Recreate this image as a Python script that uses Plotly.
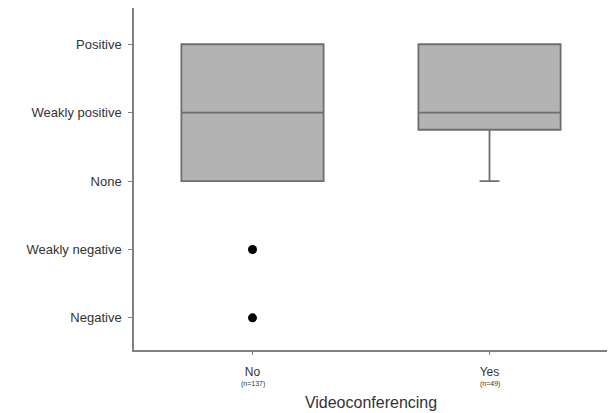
import plotly.graph_objects as go

categories = ["No", "Yes"]
sample_sizes = ["(n=137)", "(n=49)"]
q1 = [3, 3.75]
median = [4, 4]
q3 = [5, 5]
lowerfence = [3, 3]
upperfence = [5, 5]
outlier_x = ["No", "No"]
outlier_y = [2, 1]
y_tickvals = [1, 2, 3, 4, 5]
y_ticktext = ["Negative", "Weakly negative", "None", "Weakly positive", "Positive"]

fig = go.Figure()
fig.add_trace(go.Box(
    x=categories, q1=q1, median=median, q3=q3,
    lowerfence=lowerfence, upperfence=upperfence,
    fillcolor="#b3b3b3", line=dict(color="#6e6e6e", width=1.8),
    width=0.6, whiskerwidth=0.14, boxpoints=False, showlegend=False,
))
fig.add_trace(go.Scatter(
    x=outlier_x, y=outlier_y, mode="markers",
    marker=dict(color="black", size=9), showlegend=False,
))

for c, n in zip(categories, sample_sizes):
    fig.add_annotation(x=c, y=0, xref="x", yref="paper", text=n, showarrow=False,
                       yanchor="middle", yshift=-34, font=dict(size=7, color="#333333"))

fig.update_layout(
    width=615, height=413,
    margin=dict(l=126, r=15, t=0, b=71),
    plot_bgcolor="white", paper_bgcolor="white",
    font=dict(family="Liberation Sans, Arial, sans-serif", size=12, color="#333333"),
    xaxis=dict(
        type="category", categoryorder="array", categoryarray=categories,
        range=[-0.5, 1.5], tickmode="array", tickvals=categories, ticktext=categories,
        tickfont=dict(size=12, color="#333333"), ticklabelstandoff=7,
        showline=True, linecolor="#808080", linewidth=1.5, showgrid=False,
        ticks="outside", ticklen=3, tickcolor="#808080", zeroline=False,
        title=dict(text="Videoconferencing", font=dict(size=16, color="#333333"), standoff=19),
    ),
    yaxis=dict(
        range=[0.53, 5.53], tickmode="array", tickvals=y_tickvals, ticktext=y_ticktext,
        tickfont=dict(size=13, color="#333333"),
        showline=True, linecolor="#808080", linewidth=1.5, showgrid=False, zeroline=False,
        ticks="outside", ticklen=4, tickcolor="#808080", ticklabelstandoff=4,
    ),
)
fig.write_html("out.html")
